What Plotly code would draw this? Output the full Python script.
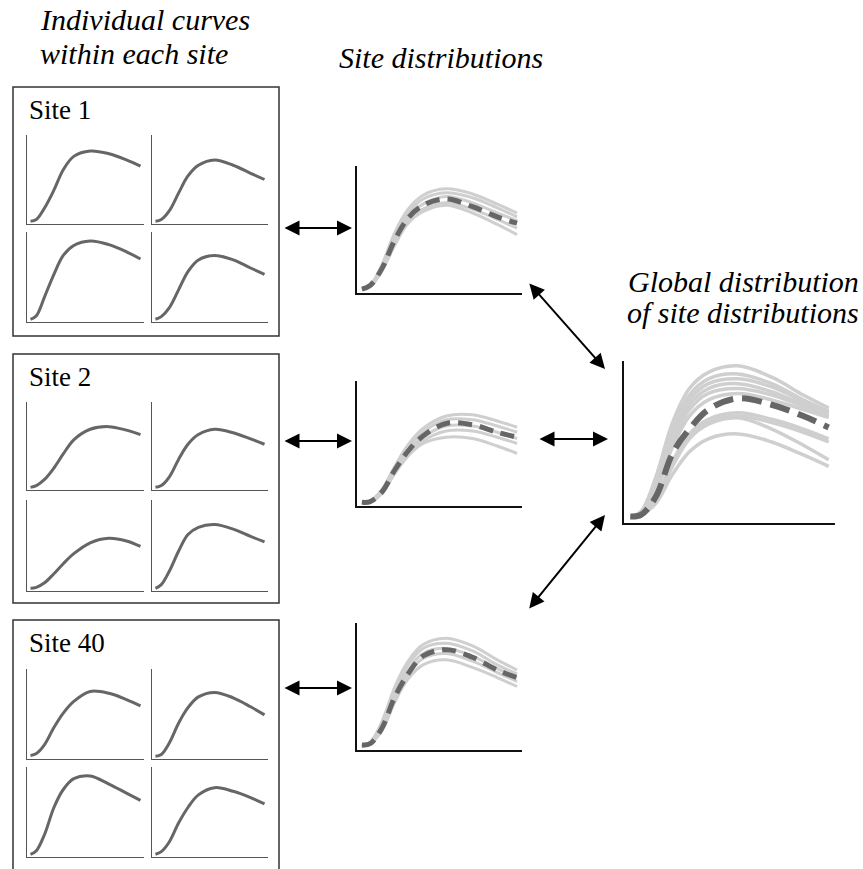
import plotly.graph_objects as go

W, H = 863, 869

# Common x positions (fraction of each panel width) at which curves were read
X_GRID = [0.03, 0.08, 0.15, 0.23, 0.31, 0.40, 0.54, 0.70, 0.85, 0.97]

SITE_NAMES = ["Site 1", "Site 2", "Site 40"]

# Individual curves per site: top-left, top-right, bottom-left, bottom-right
SITE1_CURVES = [
    [0.03, 0.05, 0.18, 0.38, 0.61, 0.76, 0.82, 0.79, 0.72, 0.65],
    [0.03, 0.05, 0.15, 0.35, 0.54, 0.66, 0.72, 0.66, 0.57, 0.50],
    [0.03, 0.07, 0.28, 0.53, 0.74, 0.85, 0.90, 0.86, 0.78, 0.70],
    [0.03, 0.06, 0.16, 0.36, 0.56, 0.69, 0.74, 0.69, 0.60, 0.53],
]
SITE2_CURVES = [
    [0.03, 0.05, 0.12, 0.25, 0.41, 0.57, 0.69, 0.72, 0.68, 0.63],
    [0.03, 0.05, 0.15, 0.35, 0.52, 0.63, 0.69, 0.65, 0.58, 0.52],
    [0.03, 0.04, 0.09, 0.19, 0.30, 0.41, 0.53, 0.58, 0.55, 0.49],
    [0.03, 0.07, 0.22, 0.44, 0.62, 0.70, 0.73, 0.68, 0.60, 0.54],
]
SITE40_CURVES = [
    [0.04, 0.06, 0.16, 0.35, 0.51, 0.64, 0.75, 0.73, 0.66, 0.59],
    [0.03, 0.05, 0.18, 0.40, 0.57, 0.69, 0.74, 0.68, 0.58, 0.49],
    [0.03, 0.07, 0.25, 0.55, 0.75, 0.87, 0.90, 0.81, 0.71, 0.63],
    [0.03, 0.06, 0.17, 0.38, 0.55, 0.69, 0.77, 0.73, 0.66, 0.59],
]

# Site distributions: light curves + dashed mean
SITE1_DIST_GRAY = [
    [0.03, 0.06, 0.22, 0.48, 0.66, 0.77, 0.82, 0.78, 0.70, 0.63],
    [0.03, 0.06, 0.21, 0.45, 0.63, 0.74, 0.79, 0.75, 0.67, 0.60],
    [0.03, 0.05, 0.19, 0.42, 0.60, 0.70, 0.76, 0.71, 0.63, 0.57],
    [0.03, 0.05, 0.18, 0.40, 0.57, 0.66, 0.71, 0.66, 0.58, 0.51],
    [0.03, 0.05, 0.17, 0.38, 0.55, 0.64, 0.69, 0.63, 0.54, 0.46],
]
SITE1_DIST_MEAN = [0.03, 0.06, 0.19, 0.42, 0.59, 0.69, 0.74, 0.68, 0.60, 0.55]

SITE2_DIST_GRAY = [
    [0.03, 0.04, 0.13, 0.32, 0.49, 0.62, 0.72, 0.73, 0.68, 0.63],
    [0.03, 0.04, 0.12, 0.30, 0.46, 0.59, 0.69, 0.69, 0.64, 0.59],
    [0.03, 0.035, 0.11, 0.28, 0.43, 0.55, 0.64, 0.64, 0.59, 0.54],
    [0.03, 0.035, 0.10, 0.27, 0.41, 0.52, 0.60, 0.60, 0.55, 0.50],
    [0.03, 0.03, 0.10, 0.26, 0.40, 0.50, 0.55, 0.54, 0.48, 0.42],
]
SITE2_DIST_MEAN = [0.03, 0.035, 0.11, 0.29, 0.44, 0.56, 0.66, 0.65, 0.59, 0.55]

SITE40_DIST_GRAY = [
    [0.03, 0.06, 0.22, 0.50, 0.70, 0.83, 0.88, 0.82, 0.71, 0.63],
    [0.03, 0.06, 0.20, 0.47, 0.67, 0.80, 0.84, 0.78, 0.67, 0.60],
    [0.03, 0.05, 0.18, 0.44, 0.63, 0.76, 0.80, 0.74, 0.64, 0.57],
    [0.03, 0.05, 0.16, 0.41, 0.60, 0.72, 0.76, 0.70, 0.61, 0.54],
    [0.03, 0.05, 0.15, 0.38, 0.56, 0.67, 0.71, 0.65, 0.57, 0.50],
]
SITE40_DIST_MEAN = [0.04, 0.05, 0.17, 0.42, 0.60, 0.74, 0.79, 0.73, 0.63, 0.57]

# Global distribution of site distributions
GLOBAL_GRAY = [
    [0.04, 0.07, 0.28, 0.62, 0.83, 0.93, 0.97, 0.90, 0.79, 0.71],
    [0.04, 0.07, 0.26, 0.58, 0.79, 0.89, 0.92, 0.86, 0.76, 0.69],
    [0.04, 0.06, 0.24, 0.55, 0.76, 0.86, 0.89, 0.84, 0.75, 0.68],
    [0.04, 0.06, 0.22, 0.52, 0.73, 0.83, 0.86, 0.81, 0.73, 0.67],
    [0.04, 0.06, 0.21, 0.50, 0.70, 0.80, 0.83, 0.79, 0.72, 0.66],
    [0.04, 0.06, 0.19, 0.47, 0.66, 0.76, 0.80, 0.76, 0.70, 0.65],
    [0.04, 0.05, 0.15, 0.38, 0.55, 0.64, 0.68, 0.64, 0.58, 0.52],
    [0.04, 0.05, 0.14, 0.36, 0.53, 0.62, 0.66, 0.62, 0.56, 0.50],
    [0.04, 0.05, 0.14, 0.35, 0.52, 0.61, 0.65, 0.58, 0.48, 0.39],
    [0.04, 0.05, 0.12, 0.30, 0.44, 0.52, 0.55, 0.50, 0.42, 0.35],
]
GLOBAL_MEAN = [0.04, 0.05, 0.16, 0.43, 0.58, 0.70, 0.77, 0.73, 0.66, 0.59]

# Headings: (text, anchor x px, top y px, xanchor)
HEADINGS = [
    ("Individual curves", 38, 1, "left"),
    ("within each site", 38, 35, "left"),
    ("Site distributions", 337, 39, "left"),
    ("Global distribution", 861, 263, "right"),
    ("of site distributions", 861, 294, "right"),
]

# --- layout in pixels (left, top, right, bottom) ---
SMALL_COLS_PX = [(27, 144), (152, 268)]
SMALL_ROWS_PX = [
    [(135, 224), (232, 322)],
    [(402, 490), (500, 591)],
    [(669, 759), (767, 857)],
]
BOX_PX = [(13, 87, 279, 336), (13, 354, 279, 603), (13, 620, 279, 900)]
DIST_PX = [(357, 166, 522, 293), (357, 381, 522, 506), (357, 623, 522, 750)]
GLOBAL_PX = (624, 361, 835, 523)

# arrows: (x0, y0, x1, y1) in pixels, heads at both ends
ARROWS_PX = [
    (283, 228, 352, 228),
    (283, 441, 352, 441),
    (283, 688, 352, 688),
    (538, 439, 608, 439),
    (528, 282, 605, 369),
    (528, 610, 605, 515),
]

DARK = "#666666"
LIGHT = "#cfcfcf"
SERIF = "Liberation Serif, Times New Roman, DejaVu Serif, serif"


def fx(px):
    return px / W


def fy(py):
    return 1 - py / H


fig = go.Figure()
axes = {}
n_ax = 0


def add_panel(rect, line_color, line_width):
    global n_ax
    n_ax += 1
    left, top, right, bottom = rect
    common = dict(
        range=[0, 1],
        showline=True,
        linecolor=line_color,
        linewidth=line_width,
        showgrid=False,
        zeroline=False,
        showticklabels=False,
        ticks="",
        fixedrange=True,
    )
    axes[f"xaxis{n_ax}"] = dict(domain=[fx(left), fx(right)], anchor=f"y{n_ax}", **common)
    axes[f"yaxis{n_ax}"] = dict(domain=[fy(bottom), fy(top)], anchor=f"x{n_ax}", **common)
    return f"x{n_ax}", f"y{n_ax}"


def add_curve(xa, ya, y, color, width, dash="solid"):
    fig.add_scatter(
        x=X_GRID,
        y=y,
        xaxis=xa,
        yaxis=ya,
        mode="lines",
        line=dict(color=color, width=width, dash=dash, shape="spline"),
        hoverinfo="skip",
        showlegend=False,
    )


site_curves = [SITE1_CURVES, SITE2_CURVES, SITE40_CURVES]
site_gray = [SITE1_DIST_GRAY, SITE2_DIST_GRAY, SITE40_DIST_GRAY]
site_mean = [SITE1_DIST_MEAN, SITE2_DIST_MEAN, SITE40_DIST_MEAN]

for s, name in enumerate(SITE_NAMES):
    left, top, right, bottom = BOX_PX[s]
    fig.add_shape(
        type="rect", xref="paper", yref="paper",
        x0=fx(left), x1=fx(right), y0=fy(bottom), y1=fy(top),
        line=dict(color="#333333", width=1.5),
    )
    fig.add_annotation(
        text=name, xref="paper", yref="paper", x=fx(left + 14), y=fy(top + 6),
        xanchor="left", yanchor="top", showarrow=False,
        font=dict(family=SERIF, size=27, color="black"),
    )
    for k, curve in enumerate(site_curves[s]):
        r, c = divmod(k, 2)
        x0, x1 = SMALL_COLS_PX[c]
        y0, y1 = SMALL_ROWS_PX[s][r]
        xa, ya = add_panel((x0, y0, x1, y1), "#555555", 1)
        add_curve(xa, ya, curve, DARK, 3)

    xa, ya = add_panel(DIST_PX[s], "#111111", 1.5)
    for curve in site_gray[s]:
        add_curve(xa, ya, curve, LIGHT, 3)
    add_curve(xa, ya, site_mean[s], DARK, 5, "14px,8px")

xa, ya = add_panel(GLOBAL_PX, "#111111", 1.5)
for curve in GLOBAL_GRAY:
    add_curve(xa, ya, curve, LIGHT, 3.5)
add_curve(xa, ya, GLOBAL_MEAN, DARK, 6, "20px,9px")

for x0, y0, x1, y1 in ARROWS_PX:
    fig.add_annotation(
        xref="paper", yref="paper", x=fx(x1), y=fy(y1),
        ax=x0 - x1, ay=y0 - y1, axref="pixel", ayref="pixel",
        text="", showarrow=True, arrowside="end+start",
        arrowhead=2, arrowsize=1.5, arrowwidth=2, arrowcolor="black",
    )

title_font = dict(family=SERIF, size=30, color="black", style="italic")
for text, px, py, anchor in HEADINGS:
    fig.add_annotation(
        text=text, xref="paper", yref="paper", x=fx(px), y=fy(py),
        xanchor=anchor, yanchor="top", showarrow=False, font=title_font,
    )

fig.update_layout(
    width=W,
    height=H,
    margin=dict(l=0, r=0, t=0, b=0),
    paper_bgcolor="white",
    plot_bgcolor="white",
    showlegend=False,
    **axes,
)

# the page body has a default 8px margin; drop it so the figure sits at (0, 0)
fig.write_html(
    "out.html",
    config={"displayModeBar": False},
    post_script="document.body.style.margin = '0';",
)
